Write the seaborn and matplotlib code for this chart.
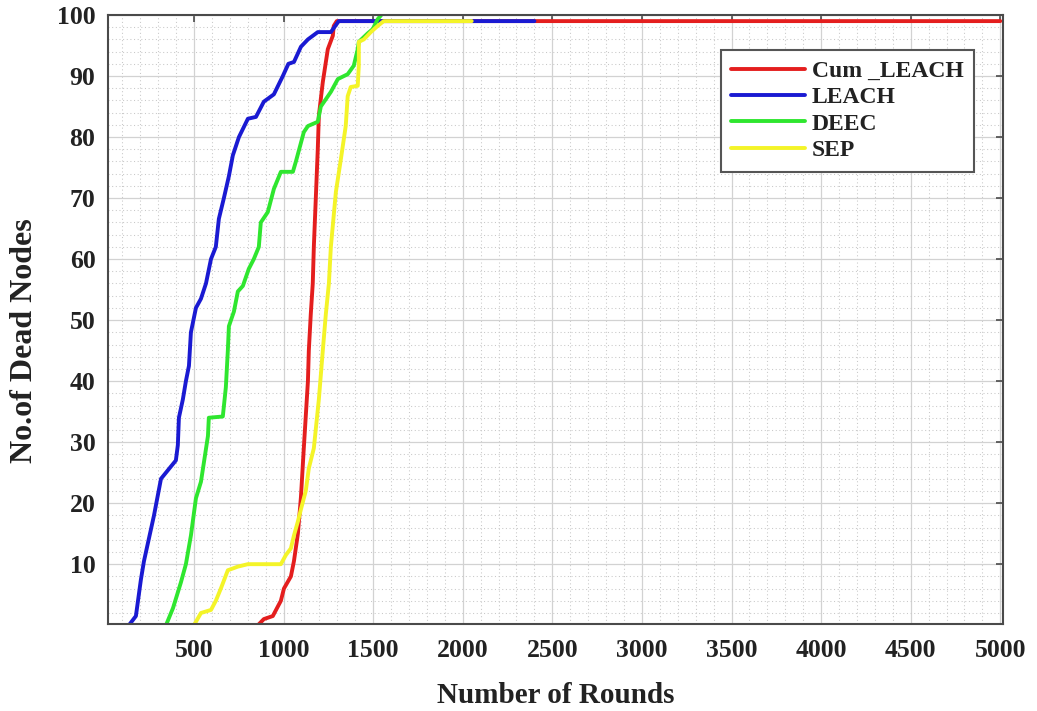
import matplotlib
matplotlib.use("Agg")
import matplotlib.pyplot as plt
from matplotlib.ticker import MultipleLocator
import seaborn as sns
import pandas as pd

# ---- data ----
cum_leach_x = [857, 890, 940, 985, 1002, 1041, 1058, 1080, 1097, 1113, 1136, 1141, 1152,
               1163, 1169, 1180, 1191, 1197, 1219, 1247, 1275, 1280, 1297, 5000]
cum_leach_y = [0, 1, 1.5, 4, 6, 8, 10.5, 15, 21, 29, 40, 45, 51,
               56, 62, 70, 78, 83.5, 89, 94.4, 96.6, 98.2, 99, 99]

leach_x = [137, 176, 204, 221, 277, 316, 399, 410, 416, 438, 455, 472, 483, 511, 539, 567,
           595, 622, 639, 667, 695, 717, 751, 801, 846, 890, 946, 996, 1027, 1058, 1097,
           1136, 1191, 1264, 1308, 2400]
leach_y = [0, 1.5, 7.5, 10.5, 18, 24, 27, 29.5, 34, 37, 40, 42.5, 48, 52, 53.5, 56,
           60, 62, 66.6, 70, 73.6, 77, 80, 83, 83.3, 85.8, 87, 90, 92, 92.3, 94.8,
           96, 97.2, 97.2, 99, 99]

deec_x = [344, 383, 427, 455, 483, 511, 539, 578, 583, 661, 678, 689, 695, 723, 745, 773,
          806, 834, 862, 873, 912, 946, 985, 1052, 1069, 1113, 1136, 1191, 1208, 1264,
          1303, 1358, 1392, 1414, 1420, 1470, 1498, 1525, 1545]
deec_y = [0, 2.8, 7, 10, 14.7, 20.8, 23.5, 31, 34, 34.2, 39, 45, 49, 51.4, 54.7, 55.6,
          58.4, 60, 62, 66, 67.7, 71.5, 74.3, 74.3, 76, 80.8, 81.8, 82.5, 85, 87.4,
          89.5, 90.3, 91.7, 94.4, 95.6, 97, 97.7, 99.3, 100]

sep_x = [500, 539, 595, 622, 650, 689, 745, 801, 890, 985, 1013, 1041, 1058, 1080, 1097,
         1124, 1141, 1169, 1197, 1219, 1236, 1253, 1264, 1292, 1320, 1347, 1358, 1375,
         1414, 1420, 1420, 1448, 1487, 1525, 1559, 2050]
sep_y = [0, 2, 2.5, 4, 6, 9, 9.6, 10, 10, 10, 11.5, 12.6, 14.7, 17, 19,
         22, 25.7, 29, 37, 45, 51, 56, 62, 71, 76.4, 81.8, 86.7, 88.2,
         88.4, 91.7, 95.6, 96, 97.2, 98.2, 99, 99]

series_names = ["Cum _LEACH", "LEACH", "DEEC", "SEP"]
series_colors = ["#e41e1e", "#1a1ad2", "#2fe62f", "#f4f428"]
x_ticks = [500, 1000, 1500, 2000, 2500, 3000, 3500, 4000, 4500, 5000]
y_ticks = [10, 20, 30, 40, 50, 60, 70, 80, 90, 100]
x_label = "Number of Rounds"
y_label = "No.of Dead Nodes"

# ---- style ----
sns.set_style("white")
plt.rcParams["font.family"] = ["Liberation Serif", "DejaVu Serif"]
plt.rcParams["font.weight"] = "bold"

fig = plt.figure(figsize=(10.37, 7.11), dpi=100)
ax = fig.add_axes([0.1041, 0.1224, 0.8631, 0.8565])

all_x = [cum_leach_x, leach_x, deec_x, sep_x]
all_y = [cum_leach_y, leach_y, deec_y, sep_y]
for name, col, xs, ys in zip(series_names, series_colors, all_x, all_y):
    df = pd.DataFrame({"Rounds": xs, "Dead": ys})
    sns.lineplot(data=df, x="Rounds", y="Dead", ax=ax, color=col, label=name,
                 estimator=None, sort=False, linewidth=2.8)

ax.set_xlim(20, 5015)
ax.set_ylim(0.2, 100)
ax.set_xticks(x_ticks)
ax.set_yticks(y_ticks)
ax.xaxis.set_minor_locator(MultipleLocator(100))
ax.yaxis.set_minor_locator(MultipleLocator(2))

ax.grid(True, which="major", color="#d2d2d2", linewidth=0.9, linestyle="-")
ax.grid(True, which="minor", color="#c8c8c8", linewidth=0.75, linestyle=(0, (1, 2.5)))
ax.set_axisbelow(True)

text_col = "#222222"
ax.tick_params(axis="both", which="major", direction="in", length=5, width=1.2,
               color="#4a4a4a", top=True, right=True, labelsize=18.5,
               labelcolor=text_col)
ax.tick_params(axis="x", which="major", pad=11)
ax.tick_params(axis="y", which="major", pad=9)
ax.tick_params(axis="both", which="minor", length=0, top=True, right=True)
for lab in ax.get_xticklabels() + ax.get_yticklabels():
    lab.set_fontweight("bold")

for sp in ax.spines.values():
    sp.set_color("#4a4a4a")
    sp.set_linewidth(1.5)

ax.set_xlabel(x_label, fontsize=21, fontweight="bold", color=text_col, labelpad=14)
ax.set_ylabel(y_label, fontsize=23, fontweight="bold", color=text_col, labelpad=11)
ax.yaxis.set_label_coords(-0.077, 0.465)

leg = ax.legend(loc="upper right", bbox_to_anchor=(0.9676, 0.9425), borderaxespad=0,
                prop={"family": ["Liberation Serif"], "weight": "bold", "size": 17},
                handlelength=3.1, handletextpad=0.3, labelspacing=0.2,
                borderpad=0.45, fancybox=False, framealpha=1, edgecolor="#555555")
leg.get_frame().set_linewidth(1.5)
for t in leg.get_texts():
    t.set_color(text_col)

fig.savefig("out.png", dpi=100, facecolor="white")
